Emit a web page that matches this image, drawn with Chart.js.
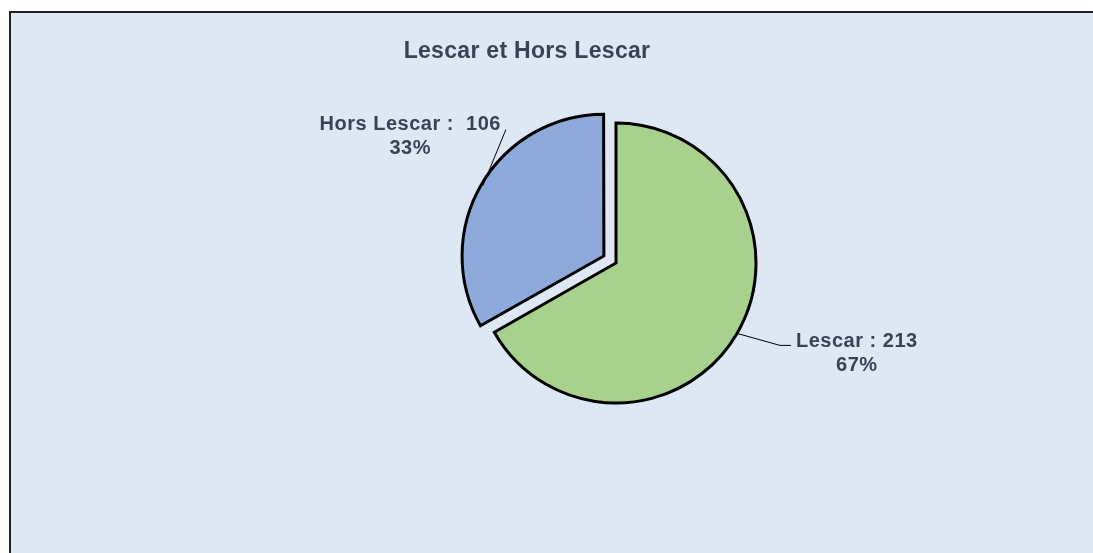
<!DOCTYPE html>
<html>
<head>
<meta charset="utf-8">
<script src="https://cdn.jsdelivr.net/npm/chart.js@4"></script>
<style>
  html, body { margin: 0; padding: 0; background: #fff; }
  #wrap { position: relative; width: 1093px; height: 553px; overflow: hidden; }
  #panel {
    position: absolute; left: 9px; top: 11px; width: 1083px; height: 560px;
    background: #dde8f4; border-left: 2px solid #222; border-top: 2px solid #222;
  }
  #pieChart { position: absolute; left: 0; top: 0; }
</style>
</head>
<body>
<div id="wrap">
  <div id="panel"></div>
  <canvas id="pieChart" width="1093" height="553"></canvas>
</div>
<script>
// chart data
const chartTitle = 'Lescar et Hors Lescar';
const categories = ['Lescar', 'Hors Lescar'];
const counts = [213, 106];
const separators = [' : ', ' :  '];

const sliceColors = ['#a9d18e', '#8eaadb'];
const explode = [0, 56]; // chart.js divides arc offset by 4

// where each data label sits, relative to the point on the slice edge
const labelStyle = [
    { lx: 43, ly: 12, hx: 11, side: 'right', gap: 5, by: 2 },
    { lx: 23, ly: -56, hx: 0, side: 'left', gap: 5, by: 0 }
];

const textColor = '#394356';
const total = counts.reduce((a, b) => a + b, 0);

const labelPlugin = {
    id: 'pieLabels',
    afterDatasetsDraw(chart) {
        const c = chart.ctx;
        c.save();

        // title
        c.fillStyle = textColor;
        c.font = 'bold 23px "Liberation Sans", Arial, sans-serif';
        c.letterSpacing = '0.3px';
        c.textAlign = 'center';
        c.textBaseline = 'alphabetic';
        c.fillText(chartTitle, 527, 58);

        const meta = chart.getDatasetMeta(0);
        meta.data.forEach((arc, i) => {
            const p = arc.getProps(['x', 'y', 'startAngle', 'endAngle', 'outerRadius']);
            const mid = (p.startAngle + p.endAngle) / 2;
            const shift = (arc.options.offset || 0) / 4;
            const r = p.outerRadius;
            const ax = p.x + Math.cos(mid) * (r + shift);
            const ay = p.y + Math.sin(mid) * (r + shift);
            const st = labelStyle[i];
            const ex = ax + st.lx;
            const ey = ay + st.ly;

            // leader line
            c.strokeStyle = '#000';
            c.lineWidth = 1;
            c.beginPath();
            c.moveTo(ax, ay);
            c.lineTo(ex, ey);
            if (st.hx) c.lineTo(ex + st.hx, ey);
            c.stroke();

            // label text
            const line1 = categories[i] + separators[i] + counts[i];
            const line2 = Math.round(counts[i] / total * 100) + '%';
            c.font = 'bold 20px "Liberation Sans", Arial, sans-serif';
            c.letterSpacing = '0.5px';
            c.fillStyle = textColor;
            c.textAlign = 'center';
            const w1 = c.measureText(line1).width;
            let cx;
            if (st.side === 'right') {
                cx = ex + st.hx + st.gap + w1 / 2;
            } else {
                cx = ex - st.gap - w1 / 2;
            }
            c.fillText(line1, cx, ey + st.by);
            c.fillText(line2, cx, ey + st.by + 24);
        });

        c.restore();
    }
};

new Chart(document.getElementById('pieChart'), {
    type: 'pie',
    data: {
        labels: categories,
        datasets: [{
            data: counts,
            backgroundColor: sliceColors,
            borderColor: '#000',
            borderWidth: 3,
            borderJoinStyle: 'miter',
            offset: explode
        }]
    },
    options: {
        responsive: false,
        animation: false,
        radius: 140,
        layout: { padding: { left: 139, right: 0, top: 0, bottom: 27 } },
        plugins: {
            legend: { display: false },
            tooltip: { enabled: false },
            title: { display: false }
        }
    },
    plugins: [labelPlugin]
});
</script>
</body>
</html>
